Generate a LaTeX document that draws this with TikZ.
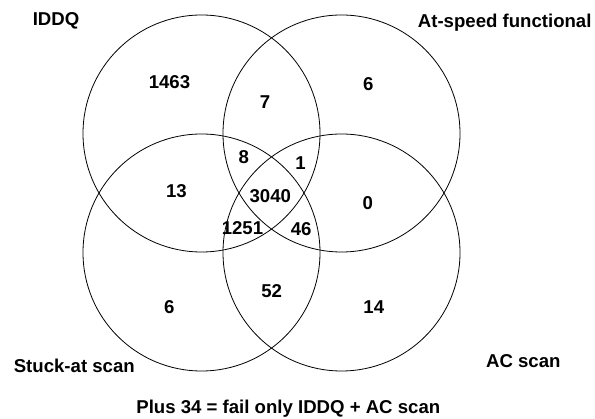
\documentclass[tikz,border=0pt]{standalone}
\usepackage{fontspec}
\setmainfont{Liberation Sans}
\begin{document}
\begin{tikzpicture}[x=1pt,y=-1pt,
  setring/.style={draw=black,line width=0.8pt,circle,minimum size=237pt,inner sep=0pt},
  count/.style={anchor=base,inner sep=0pt,font=\fontsize{18.6}{22}\selectfont\bfseries},
  setname/.style={count}]
  \useasboundingbox (0,0) rectangle (595,419);
  % four overlapping sets
  \node[setring] (iddq) at (201.5,133.5) {};
  \node[setring] (func) at (341.5,133.5) {};
  \node[setring] (stuck) at (201.5,252.5) {};
  \node[setring] (acscan) at (341.5,252.5) {};
  % set names
  \node[setname] (liddq) at (56,26) {IDDQ};
  \node[setname] (lfunc) at (504.7,28) {At-speed functional};
  \node[setname] (lstuck) at (74.3,372.7) {Stuck-at scan};
  \node[setname] (lac) at (523.3,367.3) {AC scan};
  % region counts
  \node[count] (n1463) at (169.5,88.3) {1463};
  \node[count] (n7) at (265,108.3) {7};
  \node[count] (n6a) at (368.3,90.7) {6};
  \node[count] (n8) at (243.7,163.3) {8};
  \node[count] (n1) at (300.5,169.3) {1};
  \node[count] (n3040) at (270.3,202.7) {3040};
  \node[count] (n13) at (176.5,197.3) {13};
  \node[count] (n0) at (367.8,209.7) {0};
  \node[count] (n1251) at (242.5,234.3) {1251};
  \node[count] (n46) at (301.2,236) {46};
  \node[count] (n52) at (271.7,297.3) {52};
  \node[count] (n6b) at (169.2,313.3) {6};
  \node[count] (n14) at (373.8,313.3) {14};
  % footnote
  \node[count] (note) at (288.3,413.3) {Plus 34 = fail only IDDQ + AC scan};
\end{tikzpicture}
\end{document}
